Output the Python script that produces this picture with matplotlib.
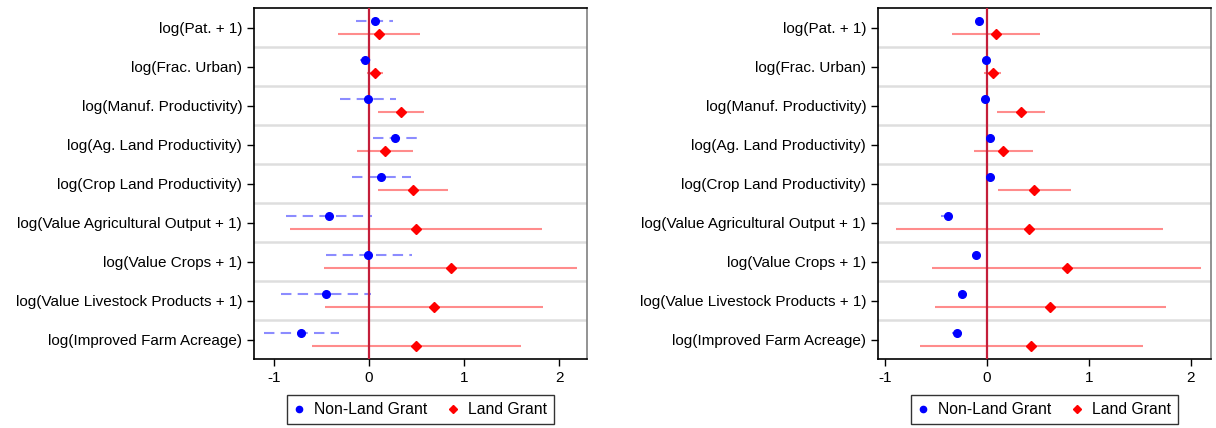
import matplotlib
matplotlib.use("Agg")
import matplotlib.pyplot as plt
from matplotlib.lines import Line2D
import numpy as np

plt.rcParams['font.family'] = ['Liberation Sans', 'DejaVu Sans']

labels = ["log(Pat. + 1)", "log(Frac. Urban)", "log(Manuf. Productivity)",
          "log(Ag. Land Productivity)", "log(Crop Land Productivity)",
          "log(Value Agricultural Output + 1)", "log(Value Crops + 1)",
          "log(Value Livestock Products + 1)", "log(Improved Farm Acreage)"]

left_nlg = [0.067, -0.042, -0.01, 0.274, 0.126, -0.425, -0.007, -0.453, -0.719]
left_nlg_lo = [-0.137, -0.10, -0.305, 0.042, -0.179, -0.874, -0.453, -0.926, -1.11]
left_nlg_hi = [0.25, 0.02, 0.28, 0.51, 0.435, 0.025, 0.449, 0.018, -0.312]
left_lg = [0.10, 0.063, 0.333, 0.165, 0.463, 0.49, 0.86, 0.677, 0.495]
left_lg_lo = [-0.33, -0.018, 0.09, -0.126, 0.098, -0.83, -0.474, -0.467, -0.60]
left_lg_hi = [0.537, 0.144, 0.576, 0.463, 0.832, 1.82, 2.19, 1.824, 1.60]

right_nlg = [-0.08, -0.007, -0.023, 0.026, 0.033, -0.386, -0.103, -0.241, -0.294]
right_nlg_lo = [-0.09, -0.017, -0.033, 0.016, 0.023, -0.455, -0.14, -0.28, -0.34]
right_nlg_hi = [-0.07, 0.003, -0.013, 0.036, 0.043, -0.31, -0.066, -0.20, -0.25]
right_lg = [0.089, 0.056, 0.33, 0.158, 0.465, 0.416, 0.782, 0.617, 0.435]
right_lg_lo = [-0.34, -0.027, 0.095, -0.132, 0.109, -0.895, -0.538, -0.515, -0.657]
right_lg_hi = [0.518, 0.139, 0.567, 0.455, 0.825, 1.729, 2.10, 1.755, 1.531]

xticks = [-1, 0, 1, 2]

fig = plt.figure(figsize=(12.16, 4.28), dpi=100)
ax1 = fig.add_axes([254/1216, 69/428, (587-254)/1216, 351/428])
ax2 = fig.add_axes([878/1216, 69/428, (1211-878)/1216, 351/428])

def draw(ax, nlg, nlo, nhi, lg, llo, lhi, xlim, legx):
    n = len(labels)
    y = np.arange(n)
    off = 0.17
    for b in np.arange(n - 1) + 0.5:
        ax.axhline(b, color='#dedede', lw=1.8, zorder=1)
    ax.hlines(y - off, nlo, nhi, colors='#8c8cff', lw=1.5,
              linestyles=(0, (5, 3)), zorder=2)
    ax.hlines(y + off, llo, lhi, colors='#ff8c8c', lw=1.5, zorder=2)
    ax.axvline(0, color='#c41e3a', lw=1.6, zorder=3)
    ax.plot(nlg, y - off, 'o', color='#0000ff', ms=5.5, zorder=4, ls='none')
    ax.plot(lg, y + off, 'D', color='#ff0000', ms=5.5, zorder=4, ls='none')
    ax.set_yticks(y)
    ax.set_yticklabels(labels, fontsize=11)
    ax.set_ylim(n - 0.5, -0.5)
    ax.set_xlim(*xlim)
    ax.set_xticks(xticks)
    ax.set_xticklabels([str(t) for t in xticks], fontsize=11)
    ax.tick_params(axis='both', direction='out', length=5, width=1, colors='black')
    for s in ['left', 'bottom', 'top']:
        ax.spines[s].set_color('black')
        ax.spines[s].set_linewidth(1.2)
    ax.spines['right'].set_color('#808080')
    ax.spines['right'].set_linewidth(1.2)
    handles = [Line2D([], [], marker='o', color='#0000ff', ls='none', ms=4.5),
               Line2D([], [], marker='D', color='#ff0000', ls='none', ms=4.5)]
    leg = fig.legend(handles, ['Non-Land Grant', 'Land Grant'], loc='center',
                     bbox_to_anchor=(legx, 0.0432), ncol=2, frameon=True,
                     fancybox=False, edgecolor='black', fontsize=11.3,
                     handlelength=0.7, handletextpad=0.6, columnspacing=1.3,
                     borderpad=0.42, borderaxespad=0)
    leg.get_frame().set_linewidth(1.0)

draw(ax1, left_nlg, left_nlg_lo, left_nlg_hi, left_lg, left_lg_lo, left_lg_hi,
     (-1.21, 2.29), 420.5/1216)
draw(ax2, right_nlg, right_nlg_lo, right_nlg_hi, right_lg, right_lg_lo, right_lg_hi,
     (-1.07, 2.20), 1044.5/1216)

fig.savefig('out.png', dpi=100)
